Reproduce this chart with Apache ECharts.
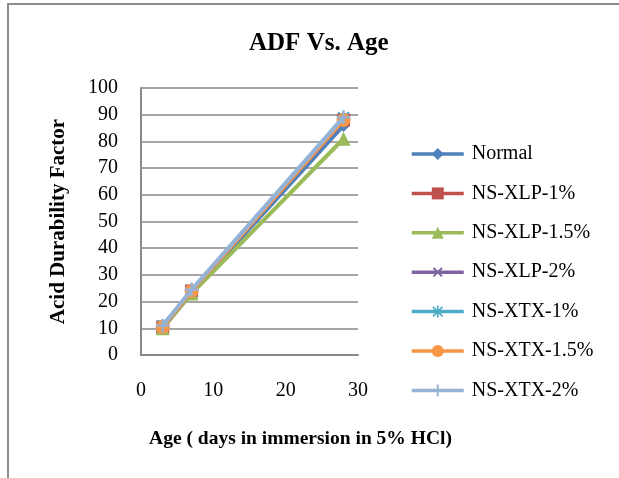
<!DOCTYPE html>
<html><head><meta charset="utf-8">
<script src="https://cdn.jsdelivr.net/npm/echarts@6/dist/echarts.min.js"></script>
<style>html,body{margin:0;padding:0;background:#fff}#c{width:619px;height:478px}</style>
</head><body><div id="c"></div>
<script>
var ages = [3, 7, 28];
var seriesNames = ['Normal','NS-XLP-1%','NS-XLP-1.5%','NS-XLP-2%','NS-XTX-1%','NS-XTX-1.5%','NS-XTX-2%'];
var normal  = [10, 23.5, 86];
var xlp1    = [10.5, 24, 88];
var xlp15   = [10, 23, 81];
var xlp2    = [10.5, 24, 88.5];
var xtx1    = [11, 24, 89];
var xtx15   = [10.5, 24, 88];
var xtx2    = [11, 24.5, 89];
var yTicks = [0,10,20,30,40,50,60,70,80,90,100];
var xTicks = [0,10,20,30];

var allValues = [normal, xlp1, xlp15, xlp2, xtx1, xtx15, xtx2];
var colors = ['#4F81BD','#C0504D','#9BBB59','#8064A2','#4BACC6','#F79646','#95B3D7'];
var plusPath = 'path://M4.2,0H5.8V4.2H10V5.8H5.8V10H4.2V5.8H0V4.2H4.2Z';
var starPath = 'path://M4.3,0H5.7V4.3H10V5.7H5.7V10H4.3V5.7H0V4.3H4.3Z M1.5,0.5L5,4L8.5,0.5L9.5,1.5L6,5L9.5,8.5L8.5,9.5L5,6L1.5,9.5L0.5,8.5L4,5L0.5,1.5Z';
var symbols = ['diamond','rect','triangle', plusPath, starPath, 'circle', plusPath];
var rotates = [0,0,0,45,0,0,0];
var sizes = [13,13,14,13,13,14,14];

var series = seriesNames.map(function(n,i){
  return {
    name: n, type: 'line',
    data: ages.map(function(a,j){ return [a, allValues[i][j]]; }),
    symbol: symbols[i], symbolSize: sizes[i], symbolRotate: rotates[i],
    showAllSymbol: true,
    lineStyle: {color: colors[i], width: 4},
    itemStyle: {color: colors[i]},
    z: 2 + i
  };
});

var chart = echarts.init(document.getElementById('c'), null, {renderer:'canvas'});
chart.setOption({
  animation: false,
  backgroundColor: '#fff',
  color: colors,
  title: {text: 'ADF Vs. Age', left: 244, top: 26,
    textStyle: {fontFamily: 'Liberation Serif', fontWeight: 'bold', fontSize: 25, color: '#000'}},
  graphic: [{type: 'rect', shape: {x: 8, y: 4, width: 700, height: 600},
    style: {fill: 'none', stroke: '#8c8c8c', lineWidth: 2}, silent: true}],
  grid: {left: 141, right: 261, top: 88, bottom: 123},
  xAxis: {type: 'value', min: 0, max: 30, interval: 10,
    name: 'Age ( days in immersion in 5% HCl)', nameLocation: 'middle', nameGap: 74,
    nameTextStyle: {fontFamily: 'Liberation Serif', fontWeight: 'bold', fontSize: 19.5, color: '#000', padding: [0,0,0,102]},
    axisLine: {show: true, onZero: false, lineStyle: {color: '#898989', width: 2}},
    axisTick: {show: false},
    splitLine: {show: false},
    axisLabel: {fontFamily: 'Liberation Serif', fontSize: 20, color: '#000', margin: 26,
      formatter: function(v){ return xTicks.indexOf(v) >= 0 ? String(v) : ''; }}
  },
  yAxis: {type: 'value', min: 0, max: 100, interval: 10,
    name: 'Acid Durability Factor', nameLocation: 'middle', nameGap: 72, nameRotate: 90,
    nameTextStyle: {fontFamily: 'Liberation Serif', fontWeight: 'bold', fontSize: 21, color: '#000'},
    axisLine: {show: true, lineStyle: {color: '#898989', width: 2}},
    axisTick: {show: false},
    splitLine: {show: true, lineStyle: {color: '#898989', width: 1.5}},
    axisLabel: {fontFamily: 'Liberation Serif', fontSize: 20, color: '#000', margin: 23,
      formatter: function(v){ return yTicks.indexOf(v) >= 0 ? String(v) : ''; }}
  },
  legend: {orient: 'vertical', left: 410, top: 144, padding: 0, itemWidth: 52, itemHeight: 15, itemGap: 19.4,
    data: seriesNames,
    lineStyle: {width: 3.5},
    textStyle: {fontFamily: 'Liberation Serif', fontSize: 20, color: '#000', padding: [0,0,0,3]}},
  series: series
});
</script></body></html>
